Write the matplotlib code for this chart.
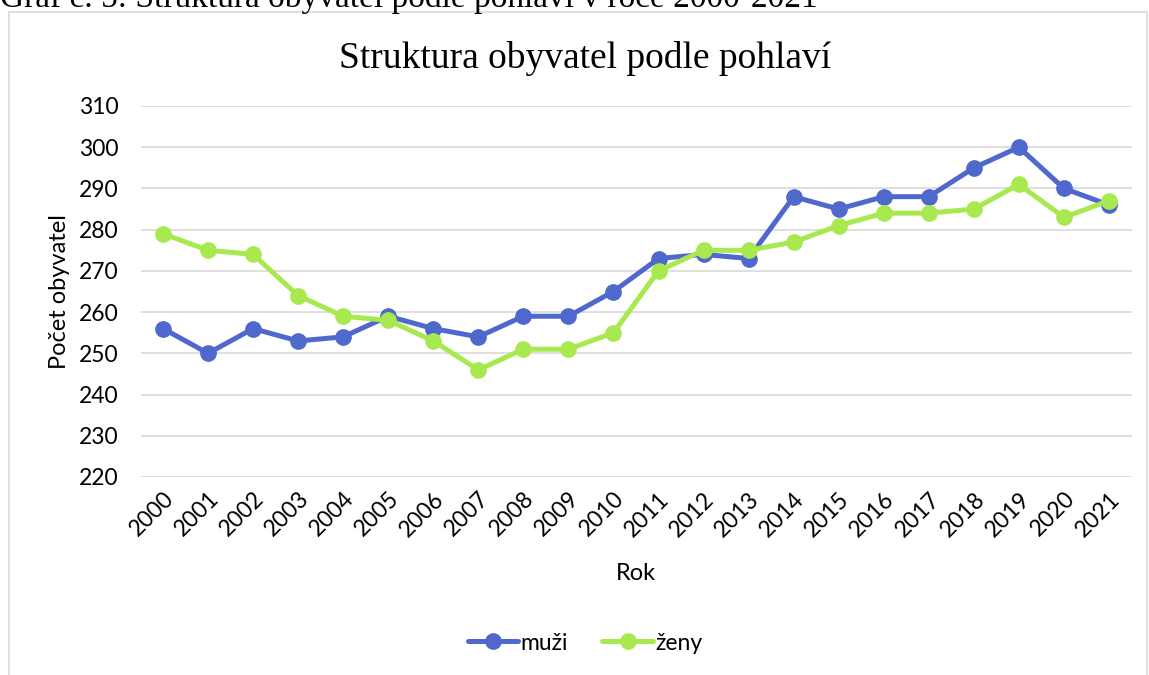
import matplotlib.pyplot as plt
from matplotlib.patches import Rectangle

# data
roky = [str(r) for r in range(2000, 2022)]
muzi = [256, 250, 256, 253, 254, 259, 256, 254, 259, 259, 265,
        273, 274, 273, 288, 285, 288, 288, 295, 300, 290, 286]
zeny = [279, 275, 274, 264, 259, 258, 253, 246, 251, 251, 255,
        270, 275, 275, 277, 281, 284, 284, 285, 291, 283, 287]
y_ticks = list(range(220, 320, 10))

modra = "#4F68CC"
zelena = "#A7E94F"
sans = ["Lato", "DejaVu Sans"]

fig = plt.figure(figsize=(11.49, 6.75), dpi=100)

# caption above the chart frame (cut off at the top edge, as in the source)
fig.text(0.0, 1 - 7 / 675, "Graf č. 5: Struktura obyvatel podle pohlaví v roce 2000-2021",
         family="Liberation Serif", fontsize=24, va="baseline", ha="left")

# chart frame
fig.patches.append(Rectangle((9 / 1149, -0.1), (1147 - 9) / 1149, 1.1 - 12 / 675,
                             transform=fig.transFigure, fill=False,
                             edgecolor="#D9D9D9", linewidth=1.2))

ax = fig.add_axes([140.5 / 1149, 1 - 477 / 675, 991 / 1149, 371 / 675])

x = list(range(len(roky)))
ax.plot(x, muzi, color=modra, linewidth=3.6, marker="o", markersize=11,
        label="muži", solid_capstyle="round", zorder=3)
ax.plot(x, zeny, color=zelena, linewidth=3.6, marker="o", markersize=11,
        label="ženy", solid_capstyle="round", zorder=4)

ax.set_xlim(-0.5, len(roky) - 0.5)
ax.set_ylim(220, 310)
ax.set_yticks(y_ticks)
ax.set_xticks(x)
ax.set_xticklabels(roky, rotation=45, ha="right", rotation_mode="anchor",
                   family=sans, fontsize=16.5)
ax.set_yticklabels([str(v) for v in y_ticks], family=sans, fontsize=16.5)

ax.grid(axis="y", color="#D9D9D9", linewidth=1.2)
ax.set_axisbelow(True)
for s in ax.spines.values():
    s.set_visible(False)
ax.tick_params(axis="x", length=0, pad=8)
ax.tick_params(axis="y", length=0, pad=16)

ax.set_xlabel("Rok", family=sans, fontsize=17, labelpad=16)
ax.set_ylabel("Počet obyvatel", family=sans, fontsize=17, labelpad=6)

fig.text(585 / 1149, 1 - 58 / 675, "Struktura obyvatel podle pohlaví",
         family="Liberation Serif", fontsize=27, ha="center", va="center")

fig.legend(loc="center", bbox_to_anchor=(585 / 1149, 1 - 643 / 675), ncol=2,
           frameon=False, prop={"family": sans, "size": 16.5},
           handlelength=2.2, handletextpad=0.1, columnspacing=1.5)

fig.savefig("out.png", dpi=100)
